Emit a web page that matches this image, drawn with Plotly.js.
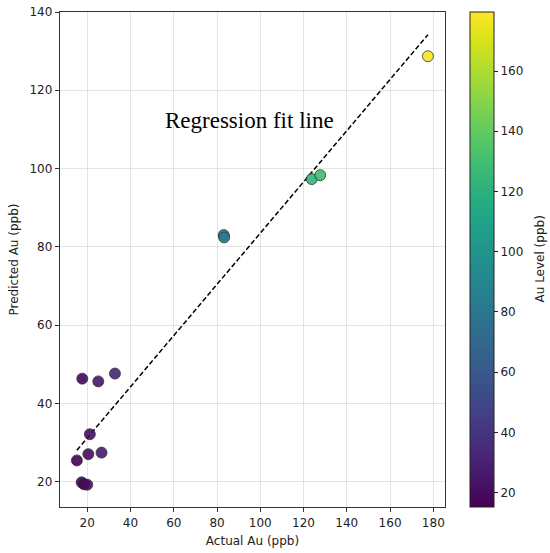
<!DOCTYPE html>
<html>
<head>
<meta charset="utf-8">
<script src="https://cdn.plot.ly/plotly-3.0.1.min.js"></script>
<style>html,body{margin:0;padding:0;background:#fff;}#chart{width:550px;height:553px;}</style>
</head>
<body>
<div id="chart"></div>
<script>
var actualAu = [15.2, 17.4, 18.5, 20.0, 20.5, 26.6, 21.2, 17.7, 25.1, 32.8, 83.1, 83.3, 123.8, 127.7, 177.5];
var predictedAu = [25.4, 19.8, 19.3, 19.2, 27.0, 27.4, 32.1, 46.3, 45.6, 47.6, 83.0, 82.4, 97.3, 98.3, 128.7];
var fitX = [15.2, 177.5];
var fitY = [28.0, 134.2];
var xTicks = [20, 40, 60, 80, 100, 120, 140, 160, 180];
var yTicks = [20, 40, 60, 80, 100, 120, 140];
var cbTicks = [20, 40, 60, 80, 100, 120, 140, 160];
var annotationText = "Regression fit line";
var colorbarTitle = "Au Level (ppb)";

var tickFont = {family: "DejaVu Sans", size: 12, color: "#222"};

var traces = [
  {
    x: fitX, y: fitY, mode: "lines", type: "scatter",
    line: {color: "#000", width: 1.5, dash: "5px,2.5px"},
    hoverinfo: "skip", showlegend: false
  },
  {
    x: actualAu, y: predictedAu, mode: "markers", type: "scatter",
    showlegend: false,
    marker: {
      size: 11,
      color: actualAu,
      colorscale: "Viridis",
      cmin: 15.2, cmax: 179.6,
      opacity: 0.9,
      line: {color: "#222", width: 0.8},
      colorbar: {
        x: 1.065, xanchor: "left", xref: "paper",
        y: 0.5, yanchor: "middle", len: 1, lenmode: "fraction",
        thickness: 24, thicknessmode: "pixels",
        outlinewidth: 1, outlinecolor: "#222",
        ticks: "outside", ticklen: 4, tickwidth: 1, tickcolor: "#222",
        tickvals: cbTicks, tickfont: tickFont,
        xpad: 0, ypad: 0
      }
    }
  }
];

var axisCommon = {
  showline: true, linecolor: "#333", linewidth: 1.2, mirror: true,
  ticks: "outside", ticklen: 4, tickwidth: 1, tickcolor: "#333",
  showgrid: true, gridcolor: "rgba(180,180,180,0.35)", gridwidth: 1,
  zeroline: false, tickfont: tickFont
};

var layout = {
  width: 550, height: 553,
  margin: {l: 60, r: 105, t: 12, b: 45.5},
  paper_bgcolor: "#fff", plot_bgcolor: "#fff",
  xaxis: Object.assign({}, axisCommon, {
    range: [7.4, 185.4], tickvals: xTicks,
    title: {text: "Actual Au (ppb)", font: tickFont, standoff: 8}
  }),
  yaxis: Object.assign({}, axisCommon, {
    range: [13.5, 140], tickvals: yTicks,
    title: {text: "Predicted Au (ppb)", font: tickFont, standoff: 8}
  }),
  annotations: [
    {
      x: 95, y: 112.3, xref: "x", yref: "y", text: annotationText,
      showarrow: false, font: {family: "Liberation Serif", size: 23, color: "#000"}
    },
    {
      x: (539 - 60) / 385, y: 0.5, xref: "paper", yref: "paper",
      xanchor: "center", yanchor: "middle",
      text: colorbarTitle, textangle: -90, showarrow: false, font: tickFont
    }
  ]
};

Plotly.newPlot("chart", traces, layout, {displayModeBar: false, staticPlot: true});
</script>
</body>
</html>
